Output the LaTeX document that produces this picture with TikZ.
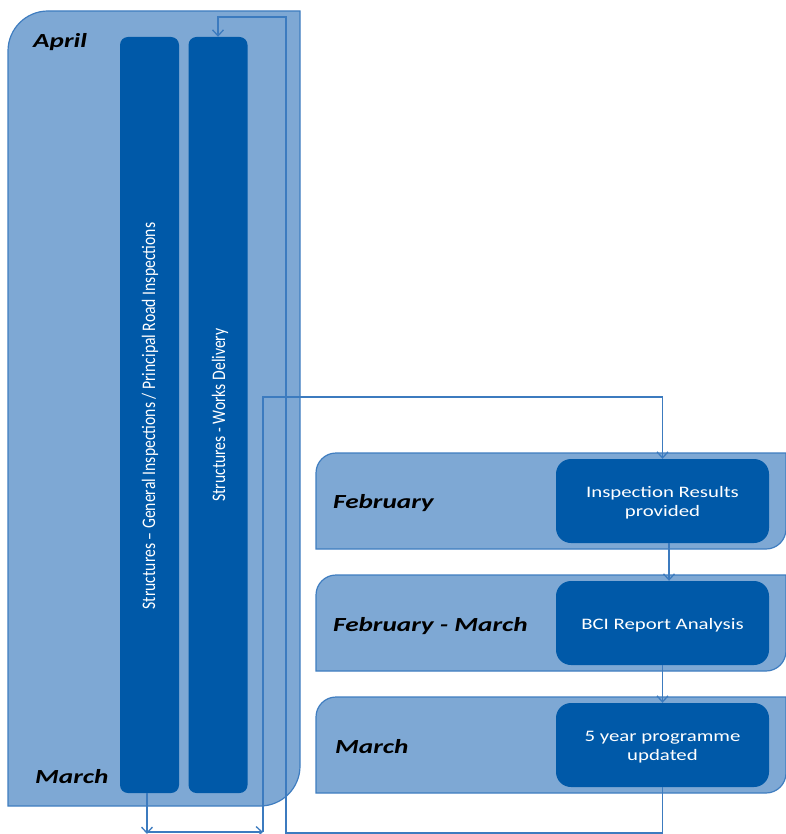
\documentclass[tikz,border=0pt]{standalone}
\usepackage{fontspec}
\setmainfont{Carlito}
\newfontfamily\monthfont[FakeStretch=1.36]{Carlito}
\newfontfamily\boxfont[FakeStretch=1.3]{Carlito}
\newfontfamily\rotfont{Carlito}
\usetikzlibrary{arrows.meta}
\definecolor{panelfill}{HTML}{7EA8D4}
\definecolor{panelline}{HTML}{3F7DC0}
\definecolor{darkbox}{HTML}{0059A8}
\definecolor{connline}{HTML}{3C7BBF}
\tikzset{
  panel/.style={draw=panelline, fill=panelfill, line width=1.2pt},
  colbox/.style={rectangle, rounded corners=8pt, fill=darkbox, minimum width=59pt, minimum height=756pt, inner sep=0pt},
  stagebox/.style={rectangle, rounded corners=15pt, fill=darkbox, minimum width=213pt, minimum height=84pt, inner sep=0pt},
  stagetext/.style={inner sep=0pt, align=center, text=white, font=\boxfont\fontsize{16}{19}\selectfont},
  monthlbl/.style={anchor=base west, inner sep=0pt, font=\monthfont\bfseries\itshape\fontsize{20}{24}\selectfont},
  rotlbl/.style={inner sep=0pt, text=white, font=\rotfont\fontsize{15.7}{19}\selectfont},
  conn/.style={draw=connline, line width=1.3pt},
  arr/.style={conn, -{Straight Barb[length=6pt, width=11pt]}},
}
\begin{document}
\begin{tikzpicture}[x=1pt, y=-1pt]
\useasboundingbox (0,0) rectangle (785,834);
% left panel
\draw[panel] (8,806) -- (8,51) arc[start angle=180, end angle=270, radius=40] -- (300,11) -- (300,766) arc[start angle=0, end angle=90, radius=40] -- cycle;
% right panels
\foreach \t in {453,575,697}{
  \draw[panel] (316,\t+96) -- (316,\t+20) arc[start angle=180, end angle=270, radius=20] -- (786,\t) -- (786,\t+76) arc[start angle=0, end angle=90, radius=20] -- cycle;
}
% columns
\node[colbox] (col1) at (149.5,415) {};
\node[colbox] (col2) at (218,415) {};
\node[rotlbl] (col1t) at (150,416) {\rotatebox{90}{\scalebox{1}[1.22]{Structures – General Inspections / Principal Road Inspections}}};
\node[rotlbl] (col2t) at (220,415) {\rotatebox{90}{\scalebox{1}[1.22]{Structures - Works Delivery}}};
% month labels
\node[monthlbl] (april) at (33,48) {April};
\node[monthlbl] (marchl) at (35,783) {March};
\node[monthlbl] (feb) at (333,508) {February};
\node[monthlbl] (febmar) at (333,631) {February - March};
\node[monthlbl] (marchr) at (335,753) {March};
% stage boxes
\node[stagebox] (insp) at (662.5,501) {};
\node[stagebox] (bci) at (662.5,623) {};
\node[stagebox] (five) at (662.5,745) {};
\node[stagetext] (inspt) at (662.5,503) {Inspection Results\\provided};
\node[stagetext] (bcit) at (662.5,625) {BCI Report Analysis};
\node[stagetext] (fivet) at (662.5,747) {5 year programme\\updated};
% connectors
\coordinate (b1) at (286,833);
\coordinate (t1) at (286,17);
\draw[arr] (five.south) |- (b1) -- (t1) -| (col2.north);
\coordinate (c1) at (147,832);
\coordinate (c2) at (263,832);
\coordinate (c3) at (263,397);
\draw[arr] ([xshift=-2.5pt]col1.south) -- ([yshift=-2pt]c1);
\draw[arr] (c1) -- (c2);
\draw[arr] (c2) -- (c3) -| (insp.north);
\draw[arr] ([xshift=6.5pt]insp.south) -- ([xshift=6.5pt]bci.north);
\draw[arr] (bci.south) -- (five.north);
\end{tikzpicture}
\end{document}
